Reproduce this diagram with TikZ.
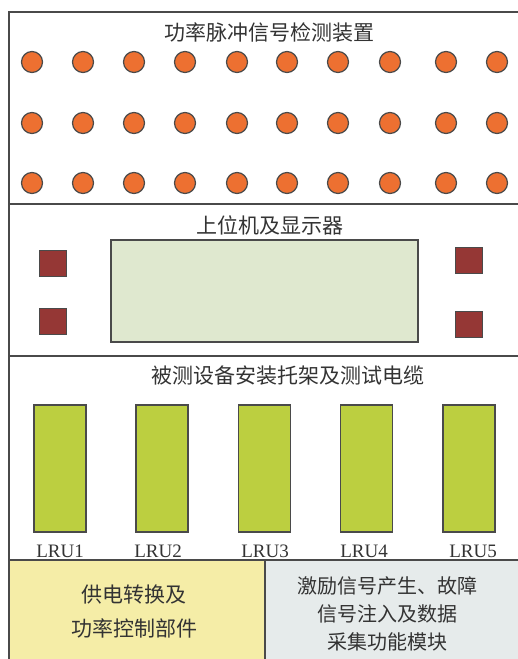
\documentclass[tikz,border=0pt]{standalone}
\usepackage{fontspec}
\setmainfont{Liberation Serif}
\newfontfamily\cjk{Noto Sans CJK SC}
\definecolor{edge}{HTML}{4A4A4A}
\definecolor{txt}{HTML}{333333}
\definecolor{dot}{HTML}{ED7031}
\definecolor{sq}{HTML}{953735}
\definecolor{scr}{HTML}{DFE8CF}
\definecolor{lru}{HTML}{BCCF40}
\definecolor{yel}{HTML}{F5EDA7}
\definecolor{gry}{HTML}{E6EBEB}
\tikzset{
  frame/.style={draw=edge, line width=1.4pt},
  dotnode/.style={circle, draw=edge, line width=1.2pt, fill=dot, minimum size=21pt, inner sep=0pt},
  sqnode/.style={draw=edge, line width=1pt, fill=sq, minimum width=27pt, minimum height=26pt, inner sep=0pt},
  lrunode/.style={draw=edge, line width=1.2pt, fill=lru, minimum width=52pt, minimum height=127pt, inner sep=0pt},
  title/.style={text=txt, font=\cjk\fontsize{21}{24}\selectfont, inner sep=0pt},
  lrulabel/.style={text=txt, font=\fontsize{19}{20}\selectfont, inner sep=0pt},
  boxtext/.style={text=txt, align=center, inner sep=0pt}
}
\begin{document}
\begin{tikzpicture}[x=1pt,y=-1pt]
\useasboundingbox (0,0) rectangle (518,659);
\begin{scope}
\clip (0,0) rectangle (518,659);
% bottom boxes
\path[fill=yel] (9,560) rectangle (265,670);
\path[fill=gry] (265,560) rectangle (530,670);
\draw[frame] (265,560) -- (265,670);
% frame
\draw[frame] (9,670) -- (9,12) -- (530,12);
\draw[frame] (9,204) -- (530,204);
\draw[frame] (9,356) -- (530,356);
\draw[frame] (9,560) -- (530,560);
\end{scope}
% section 1
\node[title] (t1) at (269,32) {功率脉冲信号检测装置};
\foreach \r/\y in {1/62,2/123,3/183}{
  \foreach \c/\x in {1/32,2/83,3/134,4/185,5/237,6/287,7/338,8/390,9/446,10/497}{
    \node[dotnode] (d\r-\c) at (\x,\y) {};
  }
}
% section 2
\node[title] (t2) at (270,225) {上位机及显示器};
\node[draw=edge, line width=1.2pt, fill=scr, minimum width=307pt, minimum height=102pt, inner sep=0pt] (screen) at (264.5,291) {};
\node[sqnode] (s1) at (52.5,263) {};
\node[sqnode] (s2) at (52.5,321) {};
\node[sqnode] (s3) at (469,260) {};
\node[sqnode] (s4) at (469,324) {};
% section 3
\node[title] (t3) at (288,376) {被测设备安装托架及测试电缆};
\foreach \i/\x/\lx in {1/60/60,2/162/158,3/264.5/265,4/366.5/364,5/469/473}{
  \node[lrunode] (l\i) at (\x,468.5) {};
  \node[lrulabel] (ll\i) at (\lx,551) {LRU\i};
}
% section 4
\node[boxtext, font=\cjk\fontsize{21}{34}\selectfont] (b1) at (134,612) {供电转换及\\功率控制部件};
\node[boxtext, font=\cjk\fontsize{20}{28}\selectfont] (b2) at (387,614) {激励信号产生、故障\\信号注入及数据\\采集功能模块};
\end{tikzpicture}
\end{document}
